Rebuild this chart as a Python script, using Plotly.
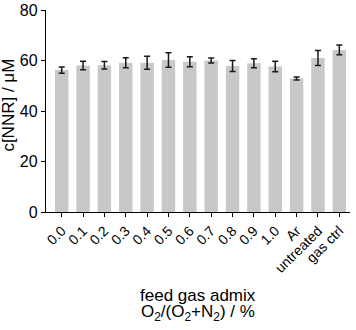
import plotly.graph_objects as go

categories = ["0.0", "0.1", "0.2", "0.3", "0.4", "0.5", "0.6", "0.7", "0.8", "0.9", "1.0", "Ar", "untreated", "gas ctrl"]
values = [56.2, 58.0, 58.1, 59.1, 59.1, 60.2, 59.5, 60.0, 57.8, 58.9, 57.6, 52.9, 61.0, 64.2]
errors = [1.2, 1.7, 1.5, 2.0, 2.6, 2.9, 2.0, 1.0, 2.2, 1.8, 2.1, 0.6, 3.0, 1.9]
y_ticks = [0, 20, 40, 60, 80]
x_title_1 = "feed gas admix"
x_title_2 = "O<sub>2</sub>/(O<sub>2</sub>+N<sub>2</sub>) / %"
y_title = "c[NNR] / μM"

FONT = "Liberation Sans, Arial, sans-serif"

fig = go.Figure(
    go.Bar(
        x=categories,
        y=values,
        marker=dict(color="#c8c8c8", line=dict(width=0)),
        error_y=dict(type="data", array=errors, color="#1a1a1a", thickness=1.5, width=3),
    )
)

fig.update_layout(
    width=356,
    height=330,
    margin=dict(l=46, r=6, t=10, b=118),
    paper_bgcolor="white",
    plot_bgcolor="white",
    bargap=0.37,
    showlegend=False,
    font=dict(family=FONT, color="black"),
)

fig.update_xaxes(
    type="category",
    range=[-0.735, 13.5],
    automargin=False,
    showline=True,
    linecolor="black",
    linewidth=1.3,
    ticks="outside",
    ticklen=4,
    tickwidth=1.2,
    tickcolor="black",
    tickangle=-45,
    tickfont=dict(size=14, family=FONT),
    showgrid=False,
)

fig.update_yaxes(
    range=[0, 80],
    tickvals=y_ticks,
    automargin=False,
    showline=True,
    linecolor="black",
    linewidth=1.3,
    ticks="outside",
    ticklen=4,
    tickwidth=1.2,
    tickcolor="black",
    tickfont=dict(size=16, family=FONT),
    showgrid=False,
    zeroline=False,
)

fig.add_annotation(
    text=x_title_1, xref="paper", yref="paper", x=0.5, y=-0.411,
    xanchor="center", yanchor="middle", showarrow=False,
    font=dict(size=17, family=FONT),
)
fig.add_annotation(
    text=x_title_2, xref="paper", yref="paper", x=0.5, y=-0.5,
    xanchor="center", yanchor="middle", showarrow=False,
    font=dict(size=17, family=FONT),
)
fig.add_annotation(
    text=y_title, xref="paper", yref="paper", x=-0.085, y=0.53,
    xanchor="right", yanchor="middle", textangle=-90, showarrow=False,
    font=dict(size=17, family=FONT),
)

fig.write_html(
    "out.html",
    config={"displayModeBar": False},
    post_script="document.body.style.margin='0';document.body.style.overflow='hidden';",
)
